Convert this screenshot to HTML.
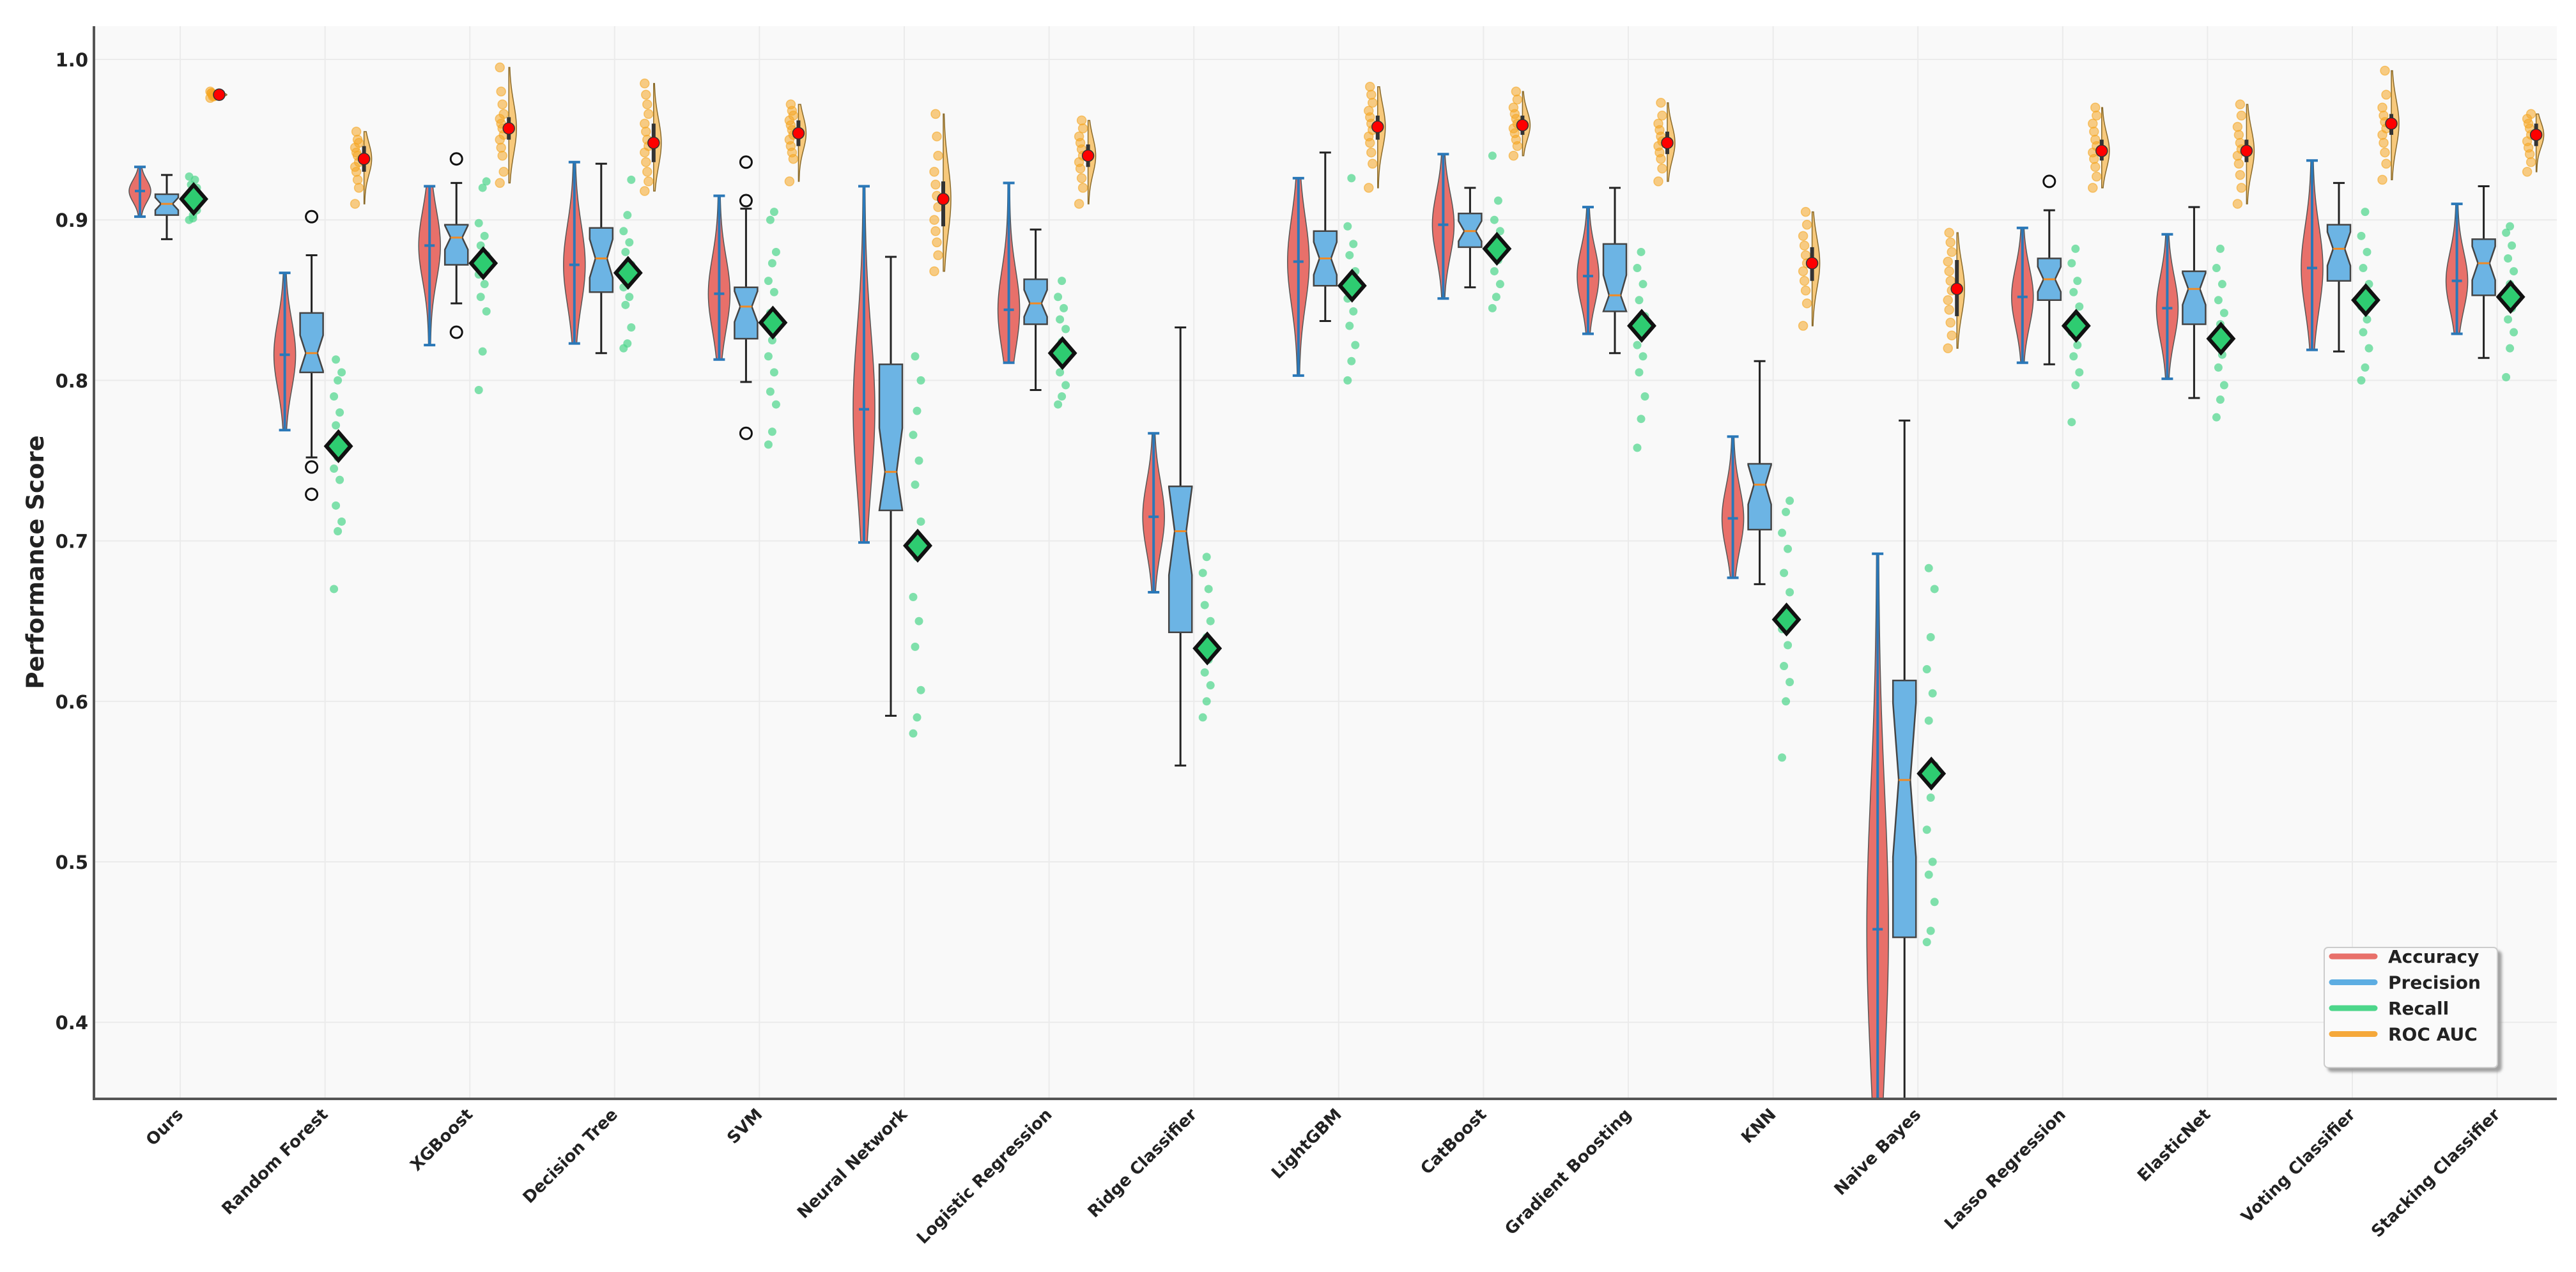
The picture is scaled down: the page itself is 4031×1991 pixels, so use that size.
<!DOCTYPE html>
<html><head><meta charset="utf-8">
<style>
html,body{margin:0;padding:0;background:#fff;}
svg{display:block;font-family:"DejaVu Sans","Liberation Sans",sans-serif;}
</style></head>
<body>
<svg id="chart" width="4031" height="1991" viewBox="0 0 4031 1991" xmlns="http://www.w3.org/2000/svg">
<defs><clipPath id="plotclip"><rect x="147" y="41" width="3854" height="1678"/></clipPath>
<filter id="shadow" x="-10%" y="-10%" width="130%" height="130%"><feDropShadow dx="6" dy="6" stdDeviation="2" flood-color="#999" flood-opacity="0.9"/></filter></defs>
<rect x="147" y="41" width="3854" height="1678" fill="#f9f9f9"/>
<g id="grid"></g>
<g id="marks" clip-path="url(#plotclip)"></g>
<g id="axes"></g>
<g id="legend"></g>
</svg>
<script>
const categories=["Ours","Random Forest","XGBoost","Decision Tree","SVM","Neural Network","Logistic Regression","Ridge Classifier","LightGBM","CatBoost","Gradient Boosting","KNN","Naive Bayes","Lasso Regression","ElasticNet","Voting Classifier","Stacking Classifier"];
// Accuracy violins: min, max, mean
const accMin=[0.902,0.769,0.822,0.823,0.813,0.699,0.811,0.668,0.803,0.851,0.829,0.677,0.30,0.811,0.801,0.819,0.829];
const accMax=[0.933,0.867,0.921,0.936,0.915,0.921,0.923,0.767,0.926,0.941,0.908,0.765,0.692,0.895,0.891,0.937,0.910];
const accMean=[0.918,0.816,0.884,0.872,0.854,0.782,0.844,0.715,0.874,0.897,0.865,0.714,0.458,0.852,0.845,0.870,0.862];
// Precision boxes
const precQ1=[0.903,0.805,0.872,0.855,0.826,0.719,0.835,0.643,0.859,0.883,0.843,0.707,0.453,0.850,0.835,0.862,0.853];
const precMed=[0.910,0.817,0.889,0.876,0.846,0.743,0.848,0.706,0.876,0.893,0.853,0.735,0.551,0.863,0.857,0.882,0.873];
const precQ3=[0.916,0.842,0.897,0.895,0.858,0.810,0.863,0.734,0.893,0.904,0.885,0.748,0.613,0.876,0.868,0.897,0.888];
const precLo=[0.888,0.752,0.848,0.817,0.799,0.591,0.794,0.560,0.837,0.858,0.817,0.673,0.30,0.810,0.789,0.818,0.814];
const precHi=[0.928,0.878,0.923,0.935,0.907,0.877,0.894,0.833,0.942,0.920,0.920,0.812,0.775,0.906,0.908,0.923,0.921];
const precOut=[[],[0.902,0.746,0.729],[0.938,0.830],[],[0.936,0.912,0.767],[],[],[],[],[],[],[],[],[0.924],[],[],[]];
// Recall: mean and individual folds
const recMean=[0.913,0.759,0.873,0.867,0.836,0.697,0.817,0.633,0.859,0.882,0.834,0.651,0.555,0.834,0.826,0.850,0.852];
const recPts=[
[0.900,0.903,0.906,0.909,0.912,0.915,0.918,0.920,0.922,0.925,0.927,0.901],
[0.670,0.706,0.712,0.722,0.738,0.745,0.752,0.760,0.772,0.780,0.790,0.800,0.805,0.813],
[0.794,0.818,0.843,0.852,0.860,0.866,0.872,0.878,0.884,0.890,0.898,0.920,0.924],
[0.820,0.823,0.833,0.847,0.852,0.858,0.864,0.872,0.880,0.886,0.893,0.903,0.925],
[0.760,0.768,0.785,0.793,0.805,0.815,0.825,0.833,0.842,0.855,0.862,0.873,0.880,0.900,0.905],
[0.580,0.590,0.607,0.634,0.650,0.665,0.690,0.712,0.735,0.750,0.766,0.781,0.800,0.815],
[0.785,0.790,0.797,0.805,0.812,0.818,0.824,0.832,0.838,0.845,0.852,0.862],
[0.590,0.600,0.610,0.618,0.626,0.632,0.640,0.650,0.660,0.670,0.680,0.690],
[0.800,0.812,0.822,0.834,0.843,0.851,0.860,0.868,0.878,0.885,0.896,0.926],
[0.845,0.852,0.860,0.868,0.875,0.880,0.887,0.893,0.900,0.912,0.940],
[0.758,0.776,0.790,0.805,0.815,0.822,0.830,0.840,0.850,0.860,0.870,0.880],
[0.565,0.600,0.612,0.622,0.635,0.645,0.655,0.668,0.680,0.695,0.705,0.718,0.725],
[0.450,0.457,0.475,0.492,0.500,0.520,0.540,0.560,0.588,0.605,0.620,0.640,0.670,0.683],
[0.774,0.797,0.805,0.815,0.822,0.830,0.838,0.846,0.855,0.862,0.873,0.882],
[0.777,0.788,0.797,0.808,0.816,0.825,0.835,0.842,0.850,0.860,0.870,0.882],
[0.800,0.808,0.820,0.830,0.838,0.846,0.853,0.860,0.870,0.880,0.890,0.905],
[0.802,0.820,0.830,0.838,0.845,0.852,0.860,0.868,0.876,0.884,0.892,0.896]];
// ROC AUC: mean, box q1/q3, folds (null = not available)
const rocMean=[0.978,0.938,0.957,0.948,0.954,0.913,0.940,null,0.958,0.959,0.948,0.873,0.857,0.943,0.943,0.960,0.953];
const rocQ1=[0.977,0.930,0.950,0.936,0.946,0.896,0.933,null,0.950,0.953,0.941,0.862,0.840,0.937,0.936,0.953,0.946];
const rocQ3=[0.979,0.946,0.964,0.960,0.962,0.924,0.947,null,0.965,0.965,0.955,0.883,0.875,0.950,0.950,0.966,0.960];
const rocPts=[
[0.976,0.977,0.978,0.979,0.980,0.978,0.977,0.979],
[0.910,0.920,0.925,0.930,0.933,0.936,0.940,0.942,0.945,0.948,0.950,0.955],
[0.923,0.930,0.940,0.945,0.950,0.953,0.957,0.960,0.963,0.966,0.972,0.980,0.995],
[0.918,0.924,0.930,0.936,0.942,0.946,0.950,0.955,0.960,0.966,0.972,0.978,0.985],
[0.924,0.938,0.942,0.946,0.950,0.953,0.956,0.959,0.962,0.965,0.968,0.972],
[0.868,0.878,0.886,0.893,0.900,0.908,0.915,0.922,0.930,0.940,0.952,0.966],
[0.910,0.920,0.926,0.932,0.936,0.940,0.944,0.948,0.952,0.957,0.962],
[],
[0.920,0.935,0.942,0.948,0.952,0.956,0.960,0.964,0.968,0.973,0.978,0.983],
[0.940,0.946,0.950,0.954,0.957,0.960,0.963,0.966,0.970,0.975,0.980],
[0.924,0.932,0.938,0.942,0.946,0.949,0.952,0.956,0.960,0.965,0.973],
[0.834,0.848,0.856,0.862,0.868,0.873,0.878,0.884,0.890,0.897,0.905],
[0.820,0.828,0.836,0.844,0.850,0.856,0.862,0.868,0.874,0.880,0.886,0.892],
[0.920,0.927,0.933,0.938,0.942,0.946,0.950,0.955,0.960,0.965,0.970],
[0.910,0.920,0.928,0.935,0.940,0.944,0.948,0.953,0.958,0.965,0.972],
[0.925,0.935,0.942,0.948,0.953,0.957,0.961,0.965,0.970,0.978,0.993],
[0.930,0.936,0.941,0.945,0.949,0.953,0.957,0.960,0.963,0.966]];
const yTicks=[0.4,0.5,0.6,0.7,0.8,0.9,1.0];
const yTickLabels=["0.4","0.5","0.6","0.7","0.8","0.9","1.0"];
const legendLabels=["Accuracy","Precision","Recall","ROC AUC"];
const legendColors=["#e8706a","#5dade2","#4cd68a","#f5a83a"];

const NS="http://www.w3.org/2000/svg";
const X0=282, STEP=226.6;
function xs(i){return X0+STEP*i;}
function ys(v){return 93+(1-v)*2512;}
function el(tag,attrs,parent){const e=document.createElementNS(NS,tag);for(const k in attrs)e.setAttribute(k,attrs[k]);parent.appendChild(e);return e;}
const grid=document.getElementById('grid'),marks=document.getElementById('marks'),axes=document.getElementById('axes'),legend=document.getElementById('legend');

yTicks.forEach((t,k)=>{
  const g=el('line',{x1:147,x2:4001,y1:ys(t),y2:ys(t),stroke:'#ebebeb','stroke-width':2},grid);
  
  
  const tx=el('text',{x:138,y:ys(t)+11,'text-anchor':'end','font-size':29,'font-weight':'bold',fill:'#222'},axes);
  tx.textContent=yTickLabels[k];
  
  
});
categories.forEach((c,i)=>{
  const g=el('line',{x1:xs(i),x2:xs(i),y1:41,y2:1719,stroke:'#ebebeb','stroke-width':2},grid);
  
  
  const tx=el('text',{x:0,y:0,'text-anchor':'end','font-size':26,'font-weight':'bold',fill:'#222',transform:`translate(${xs(i)+6},${1746}) rotate(-45)`},axes);
  tx.textContent=c;
  
  
});

function violinPath(cx,lo,hi,mean,W,half){
  const n=40,left=[],right=[];
  const s=(hi-lo)/3.2;
  for(let k=0;k<=n;k++){
    const v=lo+(hi-lo)*k/n;
    const w=W*(0.08+0.92*Math.exp(-Math.pow((v-mean)/s,2)));
    right.push([cx+w,ys(v)]);left.push([half?cx:cx-w,ys(v)]);
  }
  let d='M'+right.map(p=>p.join(',')).join(' L');
  d+=' L'+left.reverse().map(p=>p.join(',')).join(' L')+' Z';
  return d;
}

categories.forEach((c,i)=>{
  const cx=xs(i);
  const ax=cx-63;
  const vp=el('path',{d:violinPath(ax,accMin[i],accMax[i],accMean[i],17,false),fill:'#e8706a',stroke:'#555','stroke-width':1.5},marks);
  
  
  const vl=el('path',{d:`M${ax},${ys(accMin[i])} L${ax},${ys(accMax[i])} M${ax-9},${ys(accMin[i])} L${ax+9},${ys(accMin[i])} M${ax-9},${ys(accMax[i])} L${ax+9},${ys(accMax[i])} M${ax-8},${ys(accMean[i])} L${ax+8},${ys(accMean[i])}`,stroke:'#2a78b8','stroke-width':4,fill:'none'},marks);
  
  
  const bx=cx-21,bw=18;
  const wh=el('path',{d:`M${bx},${ys(precLo[i])} L${bx},${ys(precQ1[i])} M${bx},${ys(precQ3[i])} L${bx},${ys(precHi[i])} M${bx-9},${ys(precLo[i])} L${bx+9},${ys(precLo[i])} M${bx-9},${ys(precHi[i])} L${bx+9},${ys(precHi[i])}`,stroke:'#222','stroke-width':3,fill:'none'},marks);
  
  
  const ny=(precQ3[i]-precQ1[i])*0.3;
  const nlo=Math.max(precQ1[i],precMed[i]-ny),nhi=Math.min(precQ3[i],precMed[i]+ny);
  const nw=bw*0.5;
  const bp=el('path',{d:`M${bx-bw},${ys(precQ1[i])} L${bx+bw},${ys(precQ1[i])} L${bx+bw},${ys(nlo)} L${bx+nw},${ys(precMed[i])} L${bx+bw},${ys(nhi)} L${bx+bw},${ys(precQ3[i])} L${bx-bw},${ys(precQ3[i])} L${bx-bw},${ys(nhi)} L${bx-nw},${ys(precMed[i])} L${bx-bw},${ys(nlo)} Z`,fill:'#6cb4e4',stroke:'#444','stroke-width':2.5},marks);
  
  
  const md=el('line',{x1:bx-nw,x2:bx+nw,y1:ys(precMed[i]),y2:ys(precMed[i]),stroke:'#f08a24','stroke-width':3},marks);
  
  
  precOut[i].forEach(o=>{
    const oc=el('circle',{cx:bx,cy:ys(o),r:9,fill:'none',stroke:'#111','stroke-width':3},marks);
    
    
  });
  recPts[i].forEach((v,k)=>{
    const jx=((k*7)%5-2)*3;
    const d=el('circle',{cx:cx+20+jx,cy:ys(v),r:6.5,fill:'#4cd68a','fill-opacity':0.7},marks);
    
    
  });
  const ry=ys(recMean[i]),rx=cx+21;
  const dm=el('path',{d:`M${rx},${ry-22} L${rx+19},${ry} L${rx},${ry+22} L${rx-19},${ry} Z`,fill:'#2ecc71',stroke:'#111','stroke-width':6},marks);
  
  
  if(rocMean[i]!==null){
    const ox=cx+61;
    const lo=Math.min(...rocPts[i]),hi=Math.max(...rocPts[i]);
    const rv=el('path',{d:violinPath(ox,lo,hi,rocMean[i],12,true),fill:'#f6c36e',stroke:'#8a6a2a','stroke-width':1.5,'fill-opacity':0.9},marks);
    
    
    rocPts[i].forEach((v,k)=>{
      const jx=((k*3)%4-1.5)*2;
      const d=el('circle',{cx:ox-11+jx,cy:ys(v),r:7,fill:'#f5a623','fill-opacity':0.55,stroke:'#f5a623','stroke-opacity':0.6,'stroke-width':1.5},marks);
      
      
    });
    const rb=el('rect',{x:ox-3,y:ys(rocQ3[i]),width:6,height:Math.max(2,ys(rocQ1[i])-ys(rocQ3[i])),fill:'#333'},marks);
    
    
    const rm=el('circle',{cx:ox,cy:ys(rocMean[i]),r:9,fill:'#ff0000',stroke:'#333','stroke-width':1.5},marks);
    
    
  }
});

const sp=el('path',{d:'M147,41 L147,1720 L4001,1720',stroke:'#555','stroke-width':4,fill:'none'},axes);


const yl=el('text',{x:0,y:0,'text-anchor':'middle','font-size':37,'font-weight':'bold',fill:'#222',transform:'translate(68,880) rotate(-90)'},axes);
yl.textContent='Performance Score';



const lb=el('rect',{x:3637,y:1483,width:271,height:188,rx:6,fill:'#fafafa',stroke:'#ccc','stroke-width':2,filter:'url(#shadow)'},legend);


legendLabels.forEach((t,k)=>{
  const y=1497+k*40.5;
  const ln=el('line',{x1:3649,x2:3716,y1:y,y2:y,stroke:legendColors[k],'stroke-width':9,'stroke-linecap':'round'},legend);
  
  
  const tx=el('text',{x:3737,y:y+10,'font-size':28,'font-weight':'bold',fill:'#222'},legend);
  tx.textContent=t;
  
  
});
</script>
</body></html>
